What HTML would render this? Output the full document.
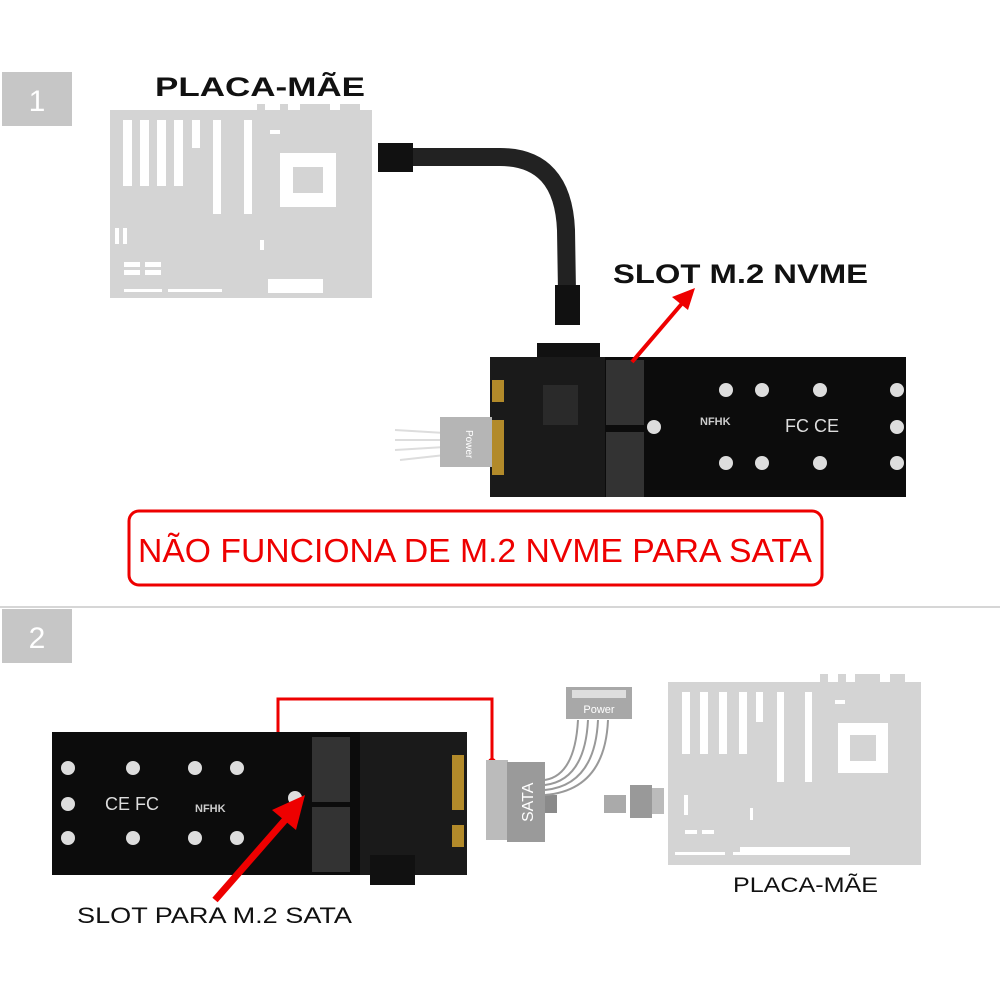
<!DOCTYPE html>
<html><head><meta charset="utf-8"><style>
html,body{margin:0;padding:0;background:#fff;}
svg{display:block;font-family:"Liberation Sans",sans-serif;}
</style></head><body>
<svg width="1000" height="1000" viewBox="0 0 1000 1000" xmlns="http://www.w3.org/2000/svg">
<rect width="1000" height="1000" fill="#fff"/>
<rect x="2" y="72" width="70" height="54" fill="#c6c6c6"/>
<text x="37" y="111" font-size="30" fill="#fff" text-anchor="middle">1</text>
<rect x="2" y="609" width="70" height="54" fill="#c6c6c6"/>
<text x="37" y="648" font-size="30" fill="#fff" text-anchor="middle">2</text>
<line x1="0" y1="607" x2="1000" y2="607" stroke="#c8c8c8" stroke-width="1.5"/>

<text x="155" y="96" font-size="27" font-weight="bold" textLength="210" lengthAdjust="spacingAndGlyphs" fill="#111">PLACA-MÃE</text>
<g fill="#d4d4d4">
<rect x="110" y="110" width="262" height="188"/>
<rect x="257" y="104" width="8" height="8"/><rect x="280" y="104" width="8" height="8"/><rect x="300" y="104" width="30" height="8"/><rect x="340" y="104" width="20" height="8"/>
</g>
<g fill="#fff">
<rect x="123" y="120" width="9" height="66"/><rect x="140" y="120" width="9" height="66"/>
<rect x="157" y="120" width="9" height="66"/><rect x="174" y="120" width="9" height="66"/>
<rect x="192" y="120" width="8" height="28"/><rect x="213" y="120" width="8" height="94"/>
<rect x="244" y="120" width="8" height="94"/><rect x="270" y="130" width="10" height="4"/>
<rect x="280" y="153" width="56" height="54"/><rect x="115" y="228" width="4" height="16"/><rect x="123" y="228" width="4" height="16"/>
<rect x="260" y="240" width="4" height="10"/>
<rect x="124" y="262" width="16" height="5"/><rect x="145" y="262" width="16" height="5"/>
<rect x="124" y="270" width="16" height="5"/><rect x="145" y="270" width="16" height="5"/>
<rect x="124" y="289" width="38" height="3"/><rect x="168" y="289" width="54" height="3"/>
<rect x="268" y="279" width="55" height="14"/>
</g>
<rect x="293" y="167" width="30" height="26" fill="#d4d4d4"/>
<path d="M410 157 L500 157 Q563 157 566 230 L567 292" fill="none" stroke="#222" stroke-width="18"/>
<rect x="378" y="143" width="35" height="29" fill="#111"/>
<rect x="555" y="285" width="25" height="40" fill="#111"/>

<text x="613" y="283" font-size="27" font-weight="bold" textLength="255" lengthAdjust="spacingAndGlyphs" fill="#111">SLOT M.2 NVME</text>
<rect x="537" y="343" width="63" height="20" fill="#111"/>
<rect x="490" y="357" width="416" height="140" fill="#0c0c0c"/>
<rect x="490" y="357" width="115" height="140" fill="#1a1a1a"/>
<g fill="#b28a2a"><rect x="492" y="380" width="12" height="22"/><rect x="492" y="420" width="12" height="55"/></g>
<rect x="543" y="385" width="35" height="40" fill="#2a2a2a"/>
<rect x="606" y="360" width="38" height="65" fill="#333"/>
<rect x="606" y="432" width="38" height="65" fill="#333"/>
<g fill="#ddd">
<circle cx="726" cy="390" r="7"/><circle cx="762" cy="390" r="7"/><circle cx="820" cy="390" r="7"/><circle cx="897" cy="390" r="7"/>
<circle cx="654" cy="427" r="7"/><circle cx="897" cy="427" r="7"/>
<circle cx="726" cy="463" r="7"/><circle cx="762" cy="463" r="7"/><circle cx="820" cy="463" r="7"/><circle cx="897" cy="463" r="7"/>
</g>
<text x="700" y="425" font-size="11" fill="#ccc" font-weight="bold">NFHK</text>
<text x="785" y="432" font-size="18" fill="#ddd">FC CE</text>
<g stroke="#ddd" stroke-width="2" fill="none">
<path d="M395 430 L445 433"/><path d="M395 440 L445 440"/><path d="M395 450 L445 447"/><path d="M400 460 L445 455"/>
</g>
<rect x="440" y="417" width="52" height="50" fill="#b5b5b5"/>
<text x="466" y="430" font-size="10" fill="#fff" transform="rotate(90 466 430)">Power</text>
<line x1="632" y1="362" x2="685" y2="300" stroke="#e00" stroke-width="4"/>
<polygon points="695,288 672,297 688,310" fill="#e00"/>

<rect x="129" y="511" width="693" height="74" rx="10" fill="none" stroke="#e00" stroke-width="3"/>
<text x="138" y="562" font-size="33" fill="#e00" textLength="674" lengthAdjust="spacingAndGlyphs">NÃO FUNCIONA DE M.2 NVME PARA SATA</text>

<rect x="52" y="732" width="415" height="143" fill="#0c0c0c"/>
<rect x="360" y="732" width="107" height="143" fill="#1a1a1a"/>
<rect x="370" y="855" width="45" height="30" fill="#111"/>
<g fill="#b28a2a"><rect x="452" y="755" width="12" height="55"/><rect x="452" y="825" width="12" height="22"/></g>
<rect x="312" y="737" width="38" height="65" fill="#333"/>
<rect x="312" y="807" width="38" height="65" fill="#333"/>
<g fill="#ddd">
<circle cx="68" cy="768" r="7"/><circle cx="133" cy="768" r="7"/><circle cx="195" cy="768" r="7"/><circle cx="237" cy="768" r="7"/>
<circle cx="68" cy="804" r="7"/><circle cx="295" cy="798" r="7"/>
<circle cx="68" cy="838" r="7"/><circle cx="133" cy="838" r="7"/><circle cx="195" cy="838" r="7"/><circle cx="237" cy="838" r="7"/>
</g>
<text x="195" y="812" font-size="11" fill="#ccc" font-weight="bold">NFHK</text>
<text x="105" y="810" font-size="18" fill="#ddd">CE FC</text>
<path d="M278 732 L278 699 L492 699 L492 762" fill="none" stroke="#e00" stroke-width="3"/>
<circle cx="492" cy="762" r="4" fill="#e00"/>
<rect x="486" y="760" width="22" height="80" fill="#bbb"/>
<rect x="507" y="762" width="38" height="80" fill="#9a9a9a"/>
<text x="533" y="822" font-size="16" fill="#fff" transform="rotate(-90 533 822)">SATA</text>
<rect x="545" y="795" width="12" height="18" fill="#8a8a8a"/>
<g stroke="#999" stroke-width="2" fill="none">
<path d="M545 780 Q575 775 578 720"/><path d="M545 785 Q585 780 588 720"/><path d="M545 790 Q595 785 598 720"/><path d="M545 795 Q605 790 608 720"/>
</g>
<rect x="566" y="687" width="66" height="32" fill="#a8a8a8"/>
<rect x="572" y="690" width="54" height="8" fill="#ddd"/>
<text x="599" y="713" font-size="11" fill="#fff" text-anchor="middle">Power</text>
<rect x="604" y="795" width="22" height="18" fill="#aaa"/>
<rect x="630" y="785" width="22" height="33" fill="#999"/>
<rect x="652" y="788" width="12" height="26" fill="#bbb"/>
<g fill="#d4d4d4">
<rect x="668" y="682" width="253" height="183"/>
<rect x="820" y="674" width="8" height="10"/><rect x="838" y="674" width="8" height="10"/><rect x="855" y="674" width="25" height="10"/><rect x="890" y="674" width="15" height="10"/>
</g>
<g fill="#fff">
<rect x="682" y="692" width="8" height="62"/><rect x="700" y="692" width="8" height="62"/>
<rect x="719" y="692" width="8" height="62"/><rect x="739" y="692" width="8" height="62"/>
<rect x="756" y="692" width="7" height="30"/><rect x="777" y="692" width="7" height="90"/>
<rect x="805" y="692" width="7" height="90"/><rect x="835" y="700" width="10" height="4"/>
<rect x="838" y="723" width="50" height="50"/><rect x="740" y="847" width="110" height="8"/>
<rect x="675" y="852" width="50" height="3"/><rect x="733" y="852" width="40" height="3"/>
<rect x="685" y="830" width="12" height="4"/><rect x="702" y="830" width="12" height="4"/>
<rect x="684" y="795" width="4" height="20"/><rect x="750" y="808" width="3" height="12"/>
</g>
<rect x="850" y="735" width="26" height="26" fill="#d4d4d4"/>
<text x="733" y="892" font-size="21" textLength="145" lengthAdjust="spacingAndGlyphs" fill="#111">PLACA-MÃE</text>
<line x1="215" y1="900" x2="292" y2="812" stroke="#e00" stroke-width="7"/>
<polygon points="305,795 272,810 296,830" fill="#e00"/>
<text x="77" y="923" font-size="22" textLength="275" lengthAdjust="spacingAndGlyphs" fill="#111">SLOT PARA M.2 SATA</text>
</svg>
</body></html>
